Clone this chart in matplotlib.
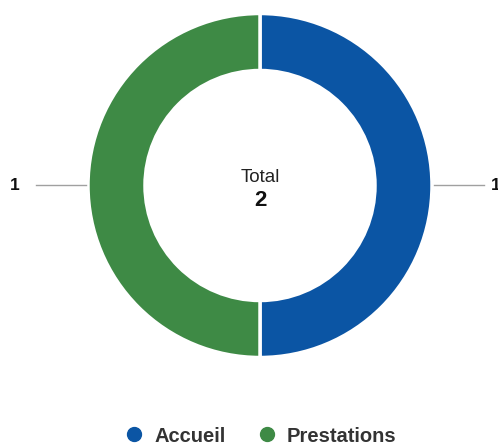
import matplotlib.pyplot as plt
from matplotlib.lines import Line2D
import numpy as np

# Donut data
categories = ['Accueil', 'Prestations']
values = [1, 1]
colors = ['#0B55A4', '#3E8A45']
total_label = 'Total'

plt.rcParams['font.family'] = ['Liberation Sans', 'DejaVu Sans']

W, H = 498, 444
fig = plt.figure(figsize=(W / 100, H / 100), dpi=100)
ax = fig.add_axes([0, 0, 1, 1])

cx, cy = 260, H - 185.5
r_out, r_in = 172, 115

wedges, _ = ax.pie(values, colors=colors, startangle=90, counterclock=False,
                   center=(cx, cy), radius=r_out, frame=True,
                   wedgeprops=dict(width=r_out - r_in, edgecolor='white', linewidth=2.5))
ax.set_xlim(0, W)
ax.set_ylim(0, H)
ax.set_aspect('equal')
ax.axis('off')

# Leader lines and value labels (right one runs off the edge, as in the original)
for w, v in zip(wedges, values):
    ang = np.deg2rad((w.theta1 + w.theta2) / 2)
    dx, dy = np.cos(ang), np.sin(ang)
    x0, y0 = cx + (r_out + 2) * dx, cy + (r_out + 2) * dy
    x1, y1 = cx + (r_out + 52) * dx, cy + (r_out + 52) * dy
    ax.plot([x0, x1], [y0, y1], color='#A0A0A0', linewidth=1)
    off = -16 if dx < 0 else 7
    ax.text(x1 + off, y1, str(v), ha='right' if dx < 0 else 'left', va='center',
            fontsize=12.5, fontweight='bold', color='#111111', clip_on=False)

# Centre text
ax.text(cx, H - 177, total_label, ha='center', va='center', fontsize=13.5, color='#222222')
ax.text(cx, H - 201, str(sum(values)), ha='center', va='center', fontsize=16,
        fontweight='bold', color='#111111')

handles = [Line2D([], [], marker='o', linestyle='none', markersize=10,
                  markerfacecolor=c, markeredgecolor=c) for c in colors]
leg = fig.legend(handles, categories, loc='center', bbox_to_anchor=(0.517, 1 - 436 / H),
                 ncol=2, frameon=False, handlelength=1.6, handletextpad=0.2,
                 columnspacing=1.25, prop={'size': 14.5, 'weight': 'bold'})
for t in leg.get_texts():
    t.set_color('#333333')

fig.savefig('out.png', dpi=100)
